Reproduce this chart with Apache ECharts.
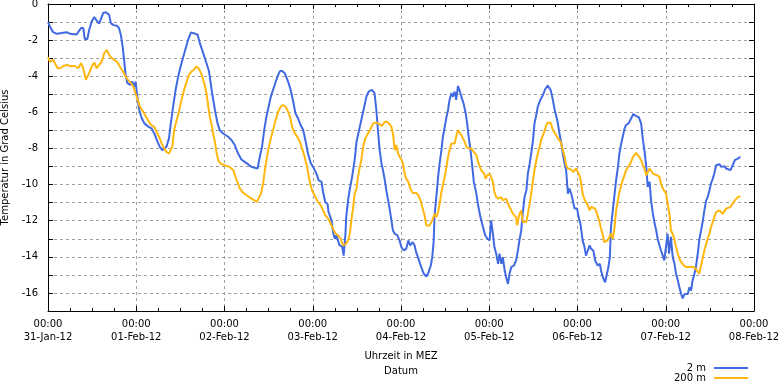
<!DOCTYPE html>
<html>
<head>
<meta charset="utf-8">
<script src="https://cdn.jsdelivr.net/npm/echarts@6/dist/echarts.min.js"></script>
<style>html,body{margin:0;padding:0;background:#fff}#chart{width:778px;height:382px}</style>
</head>
<body>
<div id="chart"></div>
<script>
// hours since 31-Jan-12 00:00
const dayLabels = ['31-Jan-12','01-Feb-12','02-Feb-12','03-Feb-12','04-Feb-12','05-Feb-12','06-Feb-12','07-Feb-12','08-Feb-12'];
const seriesNames = ['2 m', '200 m'];

const hours2m = [0,0.5,1.4,2.4,3.7,5.1,6,7.8,8.2,9,9.6,10,10.7,11.2,11.9,12.6,13.2,13.9,14.4,15,15.7,16.2,16.6,17.1,17.8,18.7,19.3,19.8,20.3,20.7,21.1,21.6,22.3,22.9,23.5,23.8,24.3,24.8,25.5,26.2,27.3,28.2,29.1,29.8,30.4,31.1,31.6,32.2,32.9,33.4,34.1,34.7,35.4,36.3,37.2,38.1,38.9,39.8,40.7,41.3,42.2,43.1,43.8,44.5,45.4,46.1,46.7,47.6,48.1,49,49.9,50.8,51.7,52.6,53.5,54.4,55.3,56.2,57,57.6,58.2,58.8,59.4,60,60.6,61.2,61.8,62.4,63,63.6,64.4,65.3,66,66.7,67.3,68,68.7,69.4,70,70.7,71.5,72.1,73,73.6,74.4,74.8,75.4,76,76.3,77.1,77.6,78,78.4,78.9,79.3,80,80.4,80.9,81.1,81.6,82.1,82.7,83.4,83.9,84.5,85.2,86,86.6,87.2,88.1,88.8,89.3,89.8,90.2,90.7,91.1,91.6,92,92.5,92.9,93.4,93.8,94.3,95,95.6,96.1,96.8,97.4,98,98.5,99.2,99.7,100.1,100.6,101.2,101.7,102.2,102.9,103.5,104.1,104.5,104.9,105.1,105.6,106.1,106.5,107,107.4,107.9,108.3,108.8,109.2,109.7,110.1,110.6,111,111.5,111.9,112.4,113,113.6,114,114.4,114.9,115.4,115.8,116.5,116.9,117.6,118.3,118.9,119.5,120.1,120.5,121,121.4,121.9,122.4,122.8,123.3,123.7,124.2,124.6,125.1,125.5,126,126.7,127.3,127.8,128.2,128.7,129.1,129.6,130.1,130.5,131,131.4,131.9,132.3,132.8,133.2,133.9,134.6,135.2,135.9,136.7,137.3,137.8,138.5,139.1,139.6,140,140.5,140.9,141.4,141.8,142.3,142.7,143.2,143.9,144.3,144.8,145.4,145.9,146.3,146.8,147.3,147.7,148.3,148.8,149.5,150.1,150.4,150.9,151.5,152,152.4,152.8,153.1,153.6,154.1,154.5,155,155.4,155.9,156.3,156.8,157.2,157.9,158.6,159.2,159.9,160.7,161.3,161.8,162.2,162.7,163.1,163.6,164,164.5,164.9,165.4,165.8,166.3,166.7,167.2,167.6,168.1,168.5,168.9,169.4,169.9,170.4,170.8,171.3,171.7,172.2,172.6,173.1,173.5,174,174.4,174.9,175.3,175.8,176.2,176.7,177.1,177.6,178.1,178.5,179,179.4,179.9,180.3,180.8,181.2,181.7,182.1,182.6,183.1,183.5,184,184.4,184.9,185.6,186.2,186.8,187.6,188.3];
const temp2m = [-1.0,-1.24,-1.56,-1.65,-1.61,-1.56,-1.65,-1.69,-1.56,-1.33,-1.33,-1.94,-1.94,-1.43,-0.96,-0.72,-0.91,-1.09,-1.02,-0.5,-0.46,-0.44,-0.59,-1.06,-1.17,-1.2,-1.33,-1.7,-2.35,-3.09,-3.93,-4.39,-4.48,-4.3,-4.57,-4.3,-5.13,-5.87,-6.33,-6.61,-6.8,-6.89,-7.26,-7.63,-7.91,-8.09,-8.06,-7.91,-7.44,-6.61,-5.59,-4.76,-4.02,-3.28,-2.63,-1.98,-1.57,-1.63,-1.7,-2.17,-2.72,-3.28,-3.74,-4.76,-5.87,-6.61,-6.98,-7.17,-7.2,-7.35,-7.54,-7.81,-8.28,-8.61,-8.74,-8.87,-9.02,-9.07,-9.11,-8.46,-7.91,-6.98,-6.24,-5.69,-5.13,-4.76,-4.39,-4.02,-3.74,-3.69,-3.83,-4.3,-4.76,-5.41,-6.06,-6.33,-6.7,-6.98,-7.54,-8.28,-8.83,-9.02,-9.39,-9.76,-9.85,-10.41,-10.96,-11.06,-11.52,-11.98,-12.72,-13,-12.81,-12.9,-13.37,-13.43,-13.93,-12.72,-11.8,-10.87,-10.22,-9.57,-8.65,-7.63,-7.07,-6.43,-5.69,-5.13,-4.85,-4.76,-4.94,-5.87,-7.17,-8.09,-8.83,-9.2,-9.76,-10.31,-10.87,-11.33,-11.98,-12.54,-12.72,-12.81,-13.09,-13.46,-13.65,-13.56,-13.09,-13.37,-13.19,-13.37,-13.74,-14.02,-14.39,-14.67,-14.94,-15.09,-14.85,-14.48,-14.02,-13.09,-11.8,-10.69,-9.57,-8.83,-8.09,-7.35,-6.8,-6.33,-5.87,-5.31,-4.94,-5.13,-4.85,-5.31,-4.54,-4.76,-5.13,-5.5,-6.06,-6.61,-7.35,-8.09,-9.02,-9.85,-10.5,-11.06,-11.8,-12.35,-12.81,-13,-13.09,-11.98,-12.72,-13.46,-13.83,-14.39,-13.83,-14.39,-14.02,-14.76,-15.13,-15.5,-14.94,-14.57,-14.48,-14.2,-13.65,-13.09,-12.54,-11.61,-10.69,-10.31,-9.39,-8.83,-8.28,-7.54,-6.61,-6.15,-5.69,-5.31,-5.04,-4.72,-4.52,-4.76,-5.31,-5.87,-6.43,-7.17,-7.72,-8.28,-8.83,-9.2,-10.5,-10.22,-10.5,-10.87,-11.33,-11.33,-11.8,-12.17,-13.09,-13.46,-13.93,-13.65,-13.37,-13.56,-13.65,-14.2,-14.48,-14.39,-14.76,-15.13,-15.41,-15.31,-14.57,-14.02,-12.35,-11.43,-10.5,-9.76,-9.02,-8.28,-7.72,-7.35,-6.89,-6.7,-6.61,-6.33,-6.09,-6.2,-6.28,-6.61,-7.54,-8.09,-9.02,-10.13,-9.85,-10.87,-11.61,-12.07,-12.54,-13,-13.37,-13.65,-13.93,-14.2,-14.28,-12.72,-13.83,-12.9,-14.02,-14.39,-14.94,-15.31,-15.69,-16.06,-16.3,-16.06,-16.15,-16.06,-15.69,-15.87,-15.31,-14.94,-14.57,-13.83,-13.09,-12.54,-11.98,-11.43,-10.87,-10.69,-10.31,-9.94,-9.67,-9.39,-8.93,-8.83,-8.87,-9.02,-9.11,-8.98,-9.11,-9.06,-9.2,-8.93,-8.65,-8.56,-8.46];

const hours200m = [0,0.5,1,1.4,1.9,2.6,3.3,4.2,5.1,6,7.3,8.2,9,9.4,9.9,10.3,10.8,11.2,11.9,12.6,13.2,13.9,14.6,15.3,16,16.6,17.3,18,18.7,19.3,19.8,20.4,21.1,21.8,22.6,23.2,23.8,24.4,25,25.6,26.4,27.3,28,28.9,29.5,30.2,30.9,31.6,32.2,32.9,33.4,33.8,34.3,35,35.6,36.3,37,37.7,38.3,39,39.8,40.4,41,41.8,42.5,43.1,43.6,44,44.5,44.9,45.4,45.8,46.3,46.9,48.1,49.4,50.4,51.3,52.2,53.1,54,54.9,55.8,56.8,57.3,57.9,58.5,59.1,59.9,60.6,61.2,61.9,62.6,63.3,63.9,64.6,65.1,65.8,66.4,67.1,67.8,68.5,69.1,69.8,70.6,71.2,71.8,72.5,73.4,74.2,74.8,75.4,76.2,76.9,77.5,78.2,78.9,79.6,80.2,80.7,81.1,81.6,82.1,82.5,83,83.4,83.9,84.3,84.8,85.2,85.7,86.3,87,87.8,88.4,89.3,90.2,90.8,91.6,92.2,92.9,93.4,93.8,94.3,94.7,95.2,95.6,96.1,96.5,97,97.4,98,98.5,99.2,100.1,100.7,101.3,101.9,102.4,102.9,103.3,103.8,104.2,104.7,105.1,105.6,106.1,106.5,107,107.4,107.9,108.3,108.8,109.2,109.7,110.1,110.6,111,111.5,111.9,112.4,112.8,113.3,113.8,114.4,115.1,115.8,116.5,117.1,117.8,118.6,119,119.5,120.1,120.5,121,121.4,121.9,122.5,123.3,123.7,124.2,124.6,125.1,125.5,126,126.4,126.9,127.3,127.6,128,128.3,128.7,129.1,129.6,130.1,130.5,131,131.4,131.9,132.3,132.8,133.2,133.7,134.1,134.6,135,135.5,135.9,136.7,137.3,137.9,138.7,139.4,140,140.5,140.9,141.4,141.8,142.3,142.9,143.6,144.1,144.8,145.4,146,146.6,147.3,147.7,148.2,148.8,149.3,150,150.4,150.9,151.3,151.8,152.2,152.7,153.1,153.6,154.1,154.5,155,155.4,155.9,156.3,156.8,157.2,157.7,158.1,158.6,159,159.5,159.9,160.4,160.8,161.3,161.8,162.2,162.7,163.1,163.6,164,164.5,164.9,165.6,166.3,166.7,167.2,167.6,168.1,168.5,169,169.4,169.9,170.4,170.8,171.3,171.7,172.2,172.9,173.5,174.2,174.9,175.6,176.2,176.7,177.1,177.6,178.1,178.5,179,179.4,179.9,180.3,180.8,181.2,181.7,182.1,182.6,183.1,183.5,184,184.4,184.9,185.6,186.2,186.8,187.6,188.3];
const temp200m = [-2.94,-3.19,-3.24,-3.09,-3.28,-3.56,-3.56,-3.43,-3.37,-3.43,-3.43,-3.56,-3.28,-3.46,-3.83,-4.2,-4.3,-3.83,-3.46,-3.24,-3.56,-3.37,-3.19,-2.72,-2.54,-2.81,-3,-3.09,-3.19,-3.37,-3.56,-3.74,-4.02,-4.2,-4.39,-4.57,-4.94,-5.31,-5.69,-5.87,-6.15,-6.46,-6.7,-6.8,-7.07,-7.35,-7.72,-8,-8.19,-8.28,-8.37,-7.91,-6.98,-6.43,-5.96,-5.31,-4.76,-4.3,-3.93,-3.74,-3.61,-3.46,-3.56,-3.93,-4.39,-4.94,-5.69,-6.24,-6.7,-7.17,-7.63,-8.19,-8.65,-8.83,-8.94,-9.02,-9.2,-9.76,-10.22,-10.46,-10.59,-10.72,-10.83,-10.96,-10.87,-10.5,-9.94,-9.02,-8.09,-7.44,-6.98,-6.43,-5.96,-5.69,-5.59,-5.69,-5.87,-6.24,-6.8,-7.17,-7.35,-7.63,-8,-8.46,-9.2,-9.85,-10.31,-10.59,-10.96,-11.15,-11.43,-11.7,-11.89,-12.17,-12.44,-12.72,-12.81,-13,-13.37,-13.46,-13.28,-13.09,-12.72,-11.98,-11.24,-10.5,-10.22,-9.57,-9.02,-8.65,-7.91,-7.44,-7.17,-6.89,-6.61,-6.57,-6.65,-6.76,-6.52,-6.52,-6.65,-6.8,-7.17,-8.09,-7.81,-8.28,-8.46,-8.6,-8.83,-9.39,-9.67,-9.85,-10.22,-10.46,-10.46,-10.59,-10.87,-11.33,-11.7,-12.26,-12.35,-12.26,-12.17,-11.89,-11.61,-11.8,-11.52,-11.06,-10.41,-10.04,-9.57,-9.11,-8.46,-8.09,-7.72,-7.81,-7.72,-7.35,-6.98,-7.07,-7.26,-7.35,-7.63,-7.91,-8,-8,-8.19,-8.37,-8.83,-9.2,-9.39,-9.67,-9.48,-9.39,-9.57,-9.85,-10.41,-10.69,-10.78,-10.69,-10.87,-10.96,-10.78,-11.06,-11.15,-11.43,-11.61,-11.52,-11.8,-12.26,-11.8,-11.61,-11.43,-12.07,-12.17,-12.07,-11.61,-11.06,-10.5,-9.76,-9.2,-8.65,-8.28,-7.91,-7.54,-7.26,-7.07,-6.7,-6.57,-6.57,-6.98,-7.17,-7.44,-7.63,-8.09,-8.46,-8.93,-9.11,-9.2,-9.17,-9.3,-9.11,-9.3,-9.67,-10.5,-10.87,-11.06,-11.43,-11.24,-11.33,-11.33,-11.61,-12.07,-12.44,-12.81,-13.19,-13.19,-13.09,-12.9,-12.72,-13,-12.35,-11.43,-10.87,-10.41,-10.04,-9.76,-9.48,-9.2,-9.11,-8.93,-8.74,-8.5,-8.37,-8.24,-8.31,-8.46,-8.65,-8.93,-9.11,-9.48,-9.39,-9.11,-9.2,-9.39,-9.48,-9.48,-9.57,-9.94,-10.22,-10.31,-10.5,-11.06,-11.61,-12.54,-12.72,-13.09,-13.46,-13.83,-14.11,-14.3,-14.48,-14.57,-14.57,-14.57,-14.57,-14.67,-14.76,-14.94,-14.48,-14.02,-13.65,-13.28,-13,-12.72,-12.35,-12.07,-11.8,-11.52,-11.46,-11.43,-11.52,-11.61,-11.52,-11.33,-11.28,-11.24,-11.06,-10.87,-10.69,-10.65];

const colors = ['#4169e1', '#ffb70f'];
const font = 'DejaVu Sans';

function pairs(xs, ys) { return xs.map((x, i) => [x, ys[i]]); }

const chart = echarts.init(document.getElementById('chart'), null, {renderer: 'canvas'});

const gridLine = {show: true, lineStyle: {color: '#a0a0a0', width: 1, type: [3, 3]}};
const axisLine = {show: true, onZero: false, lineStyle: {color: '#000', width: 1}};

chart.setOption({
  animation: false,
  backgroundColor: '#fff',
  color: colors,
  grid: {left: 48, right: 24, top: 4, bottom: 71, containLabel: false, outerBoundsMode: 'none'},
  legend: {
    orient: 'vertical',
    right: 30,
    top: 363,
    height: 40,
    align: 'right',
    icon: 'rect',
    itemWidth: 34,
    itemHeight: 2,
    itemGap: 0,
    padding: 0,
    data: seriesNames,
    textStyle: {fontFamily: font, fontSize: 10, color: '#000', lineHeight: 10, width: 40, align: 'right', padding: [0, 3, 0, 0]}
  },
  xAxis: [
    {
      type: 'value', position: 'bottom', min: 0, max: 192, interval: 24,
      axisLine: axisLine,
      axisTick: {show: true, inside: true, length: 5, lineStyle: {color: '#000'}},
      minorTick: {show: true, splitNumber: 4, length: 3, lineStyle: {color: '#000'}},
      splitLine: gridLine,
      axisLabel: {
        fontFamily: font, fontSize: 10, color: '#000', lineHeight: 13, margin: 7,
        formatter: v => '00:00\n' + dayLabels[Math.round(v / 24)]
      },
      name: 'Uhrzeit in MEZ\nDatum', nameLocation: 'middle', nameGap: 38,
      nameTextStyle: {fontFamily: font, fontSize: 10, color: '#000', lineHeight: 15}
    },
    {
      type: 'value', position: 'top', min: 0, max: 192, interval: 24,
      axisLine: axisLine,
      axisTick: {show: true, inside: true, length: 5, lineStyle: {color: '#000'}},
      minorTick: {show: true, splitNumber: 4, length: 3, lineStyle: {color: '#000'}},
      splitLine: {show: false}, axisLabel: {show: false}
    }
  ],
  yAxis: [
    {
      type: 'value', position: 'left', min: -17, max: 0, interval: 1,
      axisLine: axisLine,
      axisTick: {show: true, inside: true, length: 5, lineStyle: {color: '#000'}},
      splitLine: gridLine,
      axisLabel: {
        fontFamily: font, fontSize: 10, color: '#000', margin: 10,
        formatter: v => (Math.round(v) % 2 === 0 ? String(Math.round(v)) : '')
      },
      name: 'Temperatur in Grad Celsius', nameLocation: 'middle', nameGap: 35, nameRotate: 90,
      nameTextStyle: {fontFamily: font, fontSize: 10, color: '#000'}
    },
    {
      type: 'value', position: 'right', min: -17, max: 0, interval: 1,
      axisLine: axisLine,
      axisTick: {show: true, inside: true, length: 5, lineStyle: {color: '#000'}},
      splitLine: {show: false}, axisLabel: {show: false}
    }
  ],
  series: [
    {
      name: seriesNames[0], type: 'line', xAxisIndex: 0, yAxisIndex: 0,
      data: pairs(hours2m, temp2m), showSymbol: false, symbol: 'none',
      lineStyle: {color: colors[0], width: 2}, itemStyle: {color: colors[0]}
    },
    {
      name: seriesNames[1], type: 'line', xAxisIndex: 0, yAxisIndex: 0,
      data: pairs(hours200m, temp200m), showSymbol: false, symbol: 'none',
      lineStyle: {color: colors[1], width: 2}, itemStyle: {color: colors[1]}
    }
  ]
});
</script>
</body>
</html>
